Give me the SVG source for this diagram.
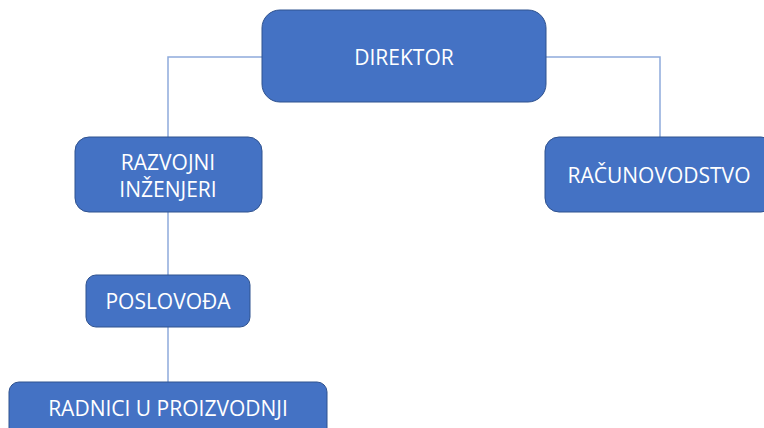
<svg xmlns="http://www.w3.org/2000/svg" width="764" height="428" viewBox="0 0 764 428">
<style>
.box{fill:#4472c4;stroke:#2f528f;stroke-width:1}
.lbl{fill:#ffffff;font-family:"Open Sans","Liberation Sans",sans-serif;font-size:21px;text-anchor:middle;dominant-baseline:central}
.con{stroke:#8eaadb;stroke-width:1.5;fill:none}
</style>
<rect width="764" height="428" fill="#ffffff"/>
<g id="connectors">
<path class="con" d="M262 57H168V137"/>
<path class="con" d="M546 57H660V137"/>
<path class="con" d="M168 212V275"/>
<path class="con" d="M168 327V382"/>
</g>
<g id="direktor">
<rect class="box" x="262" y="10" width="284" height="92" rx="18"/>
<text class="lbl" x="404" y="57">DIREKTOR</text>
</g>
<g id="razvojni">
<rect class="box" x="75" y="137" width="187" height="75" rx="14"/>
<text class="lbl" x="168" y="162">RAZVOJNI</text>
<text class="lbl" x="168" y="189">INŽENJERI</text>
</g>
<g id="racunovodstvo">
<rect class="box" x="545" y="137" width="230" height="75" rx="14"/>
<text class="lbl" x="659" y="175">RAČUNOVODSTVO</text>
</g>
<g id="poslovodja">
<rect class="box" x="86" y="275" width="164" height="52" rx="10"/>
<text class="lbl" x="168" y="301">POSLOVOĐA</text>
</g>
<g id="radnici">
<rect class="box" x="9" y="382" width="318" height="60" rx="10"/>
<text class="lbl" x="168" y="408">RADNICI U PROIZVODNJI</text>
</g>
</svg>
